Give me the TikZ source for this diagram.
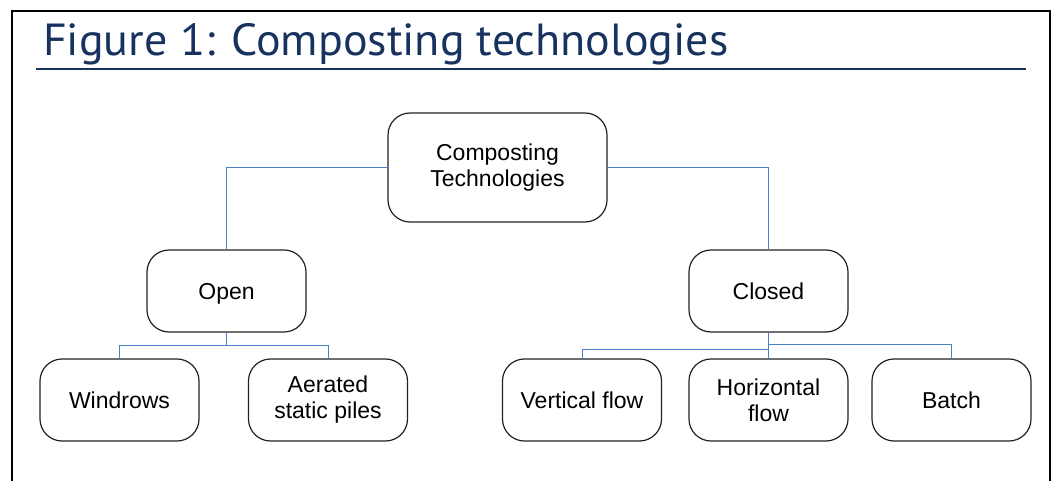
\documentclass[tikz,border=0pt]{standalone}
\usepackage{fontspec}
\setmainfont{Liberation Sans}
\newfontfamily\titlefont{PT Sans}
\usepackage{graphicx}
\definecolor{navy}{HTML}{17325E}
\definecolor{linkblue}{HTML}{4A7EC8}
\definecolor{boxline}{HTML}{222222}
\begin{document}
\begin{tikzpicture}[x=1pt,y=-1pt,
  techbox/.style={draw=boxline, line width=1.2pt, rounded corners=22pt, fill=white,
    minimum width=159pt, minimum height=82pt, inner sep=0pt, align=center,
    font=\fontsize{23}{26}\selectfont},
  oneline/.style={techbox, text height=16.5pt, text depth=0pt},
  link/.style={draw=linkblue, line width=1pt}]
\useasboundingbox (0,0) rectangle (1053,481);
\fill[white] (0,0) rectangle (1053,481);
% frame
\draw[line width=2.4pt, line join=miter] (12,482) -- (12,11) -- (1050,11) -- (1050,482);
% title
\node[anchor=base west, inner sep=0pt, text=navy] (title) at (43,56)
  {\resizebox{685pt}{32pt}{\titlefont Figure 1: Composting technologies}};
\draw[navy, line width=2pt] (36,69) -- (1026,69);
% nodes
\node[techbox, minimum width=219pt, minimum height=109pt] (root) at (497.5,167.5) {Composting\\Technologies};
\node[oneline] (open) at (226.5,291) {Open};
\node[oneline] (closed) at (768.5,291) {Closed};
\node[oneline] (wind) at (119.5,400) {Windrows};
\node[techbox] (aer) at (328,400) {Aerated\\static piles};
\node[oneline] (vflow) at (582,400) {Vertical flow};
\node[techbox] (hflow) at (768.5,400) {Horizontal\\flow};
\node[oneline] (batch) at (951.5,400) {Batch};
% connectors
\draw[link] (root.west) -| (open.north);
\draw[link] (root.east) -| (closed.north);
\draw[link] (open.south) -- ++(0,13) -| (wind.north);
\draw[link] (open.south) -- ++(0,13) -| (aer.north);
\draw[link] (closed.south) -- (hflow.north);
\draw[link] (closed.south) -- ++(0,17) -| (vflow.north);
\draw[link] (closed.south) -- ++(0,12) -| (batch.north);
\end{tikzpicture}
\end{document}
